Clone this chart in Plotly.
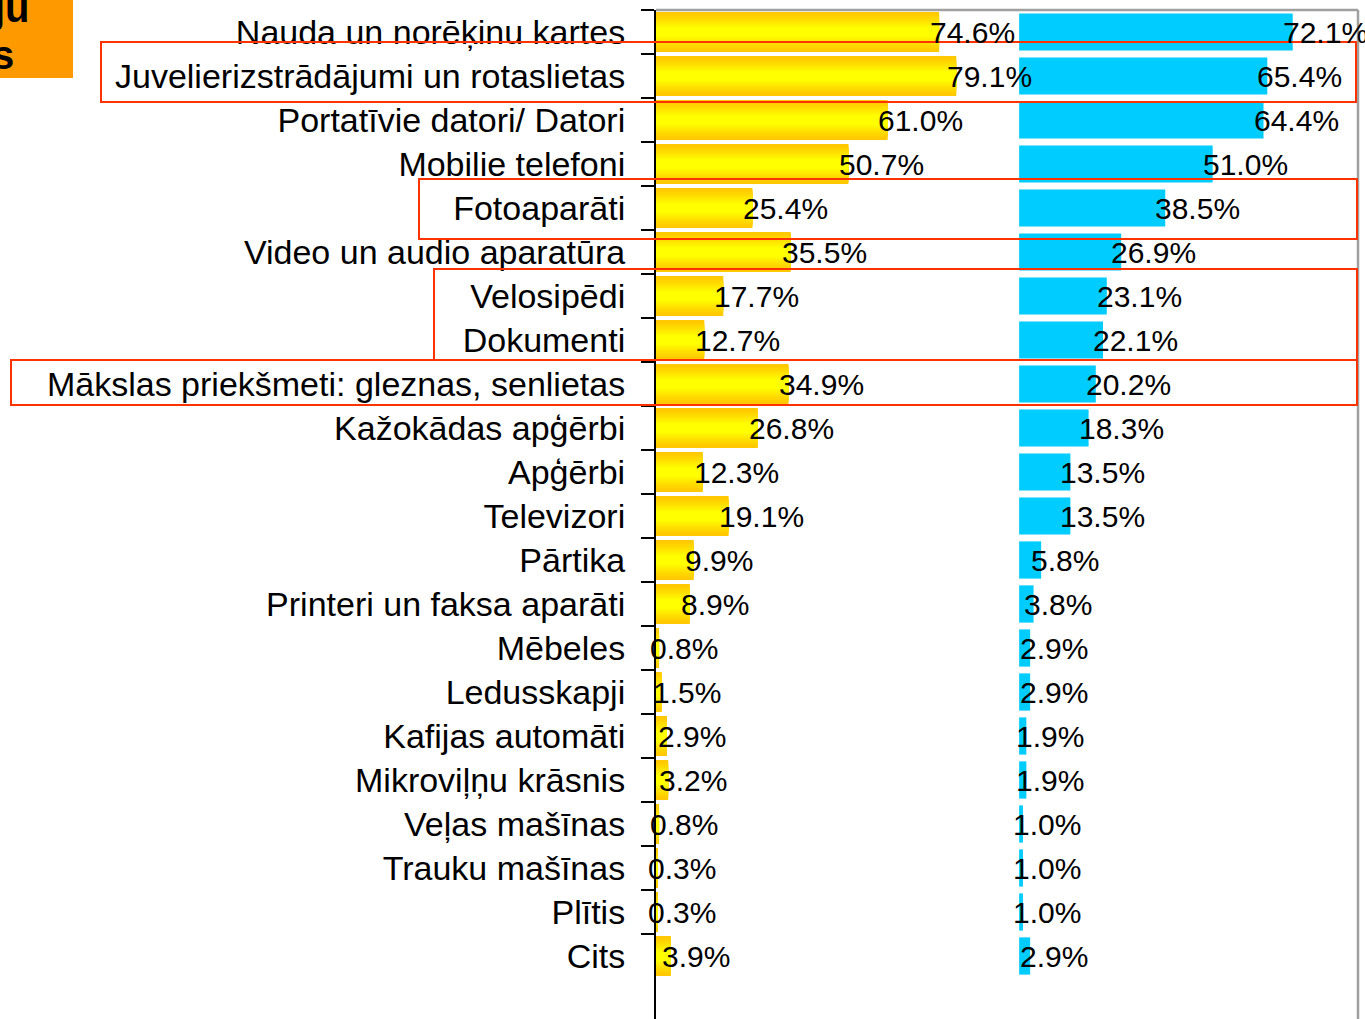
import plotly.graph_objects as go

categories = [
    "Nauda un norēķinu kartes",
    "Juvelierizstrādājumi un rotaslietas",
    "Portatīvie datori/ Datori",
    "Mobilie telefoni",
    "Fotoaparāti",
    "Video un audio aparatūra",
    "Velosipēdi",
    "Dokumenti",
    "Mākslas priekšmeti: gleznas, senlietas",
    "Kažokādas apģērbi",
    "Apģērbi",
    "Televizori",
    "Pārtika",
    "Printeri un faksa aparāti",
    "Mēbeles",
    "Ledusskapji",
    "Kafijas automāti",
    "Mikroviļņu krāsnis",
    "Veļas mašīnas",
    "Trauku mašīnas",
    "Plītis",
    "Cits",
]
yellow_values = [74.6, 79.1, 61.0, 50.7, 25.4, 35.5, 17.7, 12.7, 34.9, 26.8, 12.3,
                 19.1, 9.9, 8.9, 0.8, 1.5, 2.9, 3.2, 0.8, 0.3, 0.3, 3.9]
blue_values = [72.1, 65.4, 64.4, 51.0, 38.5, 26.9, 23.1, 22.1, 20.2, 18.3, 13.5,
               13.5, 5.8, 3.8, 2.9, 2.9, 1.9, 1.9, 1.0, 1.0, 1.0, 2.9]
corner_texts = ["ju", "s"]

# ---- layout constants ----
W, H = 1365, 1019
L, R, T, B = 656, 1358, 10, 1019
X_MAX = 185.0
BLUE_OFFSET = 95.7
BAR_W = 0.91
FONT = "Liberation Sans, Arial, sans-serif"


def px2x(px):
    return (px - L) / (R - L)


def py2y(py):
    return (B - py) / (B - T)


def lerp_color(c1, c2, t):
    a = [int(c1[i:i + 2], 16) for i in (1, 3, 5)]
    b = [int(c2[i:i + 2], 16) for i in (1, 3, 5)]
    return "rgb({},{},{})".format(*[round(a[k] + (b[k] - a[k]) * t) for k in range(3)])


fig = go.Figure()

# yellow bars with vertical gradient (stacked overlay layers)
N = 12
for k in range(N):
    t = k / (N - 1)
    w = BAR_W * (1 - 0.75 * t)
    fig.add_trace(go.Bar(
        y=categories, x=yellow_values, orientation="h", width=w,
        marker=dict(color=lerp_color("#FFC800", "#FFFF00", t ** 1.3), line=dict(width=0)),
        hoverinfo="skip", showlegend=False,
    ))

# blue bars
fig.add_trace(go.Bar(
    y=categories, x=blue_values, base=BLUE_OFFSET, orientation="h", width=BAR_W * 0.93,
    marker=dict(color="#00CCFF", line=dict(width=0)),
    hoverinfo="skip", showlegend=False,
))

annotations = []
for cat, v in zip(categories, yellow_values):
    annotations.append(dict(
        x=v, y=cat, xref="x", yref="y", text=f"{v:.1f}%", showarrow=False,
        xanchor="left", yanchor="middle", xshift=-11,
        font=dict(family=FONT, size=30, color="black"),
    ))
for cat, v in zip(categories, blue_values):
    annotations.append(dict(
        x=BLUE_OFFSET + v, y=cat, xref="x", yref="y", text=f"{v:.1f}%", showarrow=False,
        xanchor="left", yanchor="middle", xshift=-12,
        font=dict(family=FONT, size=30, color="black"),
    ))

# corner title fragments
annotations.append(dict(
    x=px2x(32), y=py2y(8), xref="paper", yref="paper", text=corner_texts[0],
    showarrow=False, xanchor="right", yanchor="middle",
    font=dict(family=FONT, size=40, color="black", weight="bold"),
))
annotations.append(dict(
    x=px2x(16), y=py2y(55), xref="paper", yref="paper", text=corner_texts[1],
    showarrow=False, xanchor="right", yanchor="middle",
    font=dict(family=FONT, size=40, color="black", weight="bold"),
))

shapes = []
# orange corner box
shapes.append(dict(type="rect", xref="paper", yref="paper",
                   x0=px2x(0), x1=px2x(73), y0=py2y(78), y1=py2y(0) + 0.01,
                   fillcolor="#FF9900", line=dict(width=0), layer="below"))
# grey frame top and right
shapes.append(dict(type="line", xref="paper", yref="paper",
                   x0=0, x1=1, y0=1, y1=1, line=dict(color="#A0A0A0", width=2.5)))
shapes.append(dict(type="line", xref="paper", yref="paper",
                   x0=1, x1=1, y0=0, y1=1, line=dict(color="#A0A0A0", width=2.5)))
# red highlight boxes
red_boxes = [(101, 42, 1356, 102), (419, 179, 1357, 239),
             (434, 269, 1357, 360), (11, 360, 1357, 405)]
for x0, y0, x1, y1 in red_boxes:
    shapes.append(dict(type="rect", xref="paper", yref="paper",
                       x0=px2x(x0), x1=px2x(x1), y0=py2y(y1), y1=py2y(y0),
                       line=dict(color="#FF3300", width=2), fillcolor="rgba(0,0,0,0)"))

fig.update_layout(
    width=W, height=H,
    margin=dict(l=L, r=W - R, t=T, b=H - B, pad=0),
    paper_bgcolor="white", plot_bgcolor="white",
    barmode="overlay",
    annotations=annotations,
    shapes=shapes,
    xaxis=dict(range=[0, X_MAX], visible=False, fixedrange=True),
    yaxis=dict(
        type="category", categoryorder="array", categoryarray=categories,
        range=[(B - T) / 44 - 0.5, -0.5],
        showline=True, linecolor="black", linewidth=2,
        ticks="outside", ticklen=13, tickcolor="black", tickwidth=2,
        tickson="boundaries", showgrid=False, zeroline=False,
        tickfont=dict(family=FONT, size=34, color="black"),
        ticklabelstandoff=22,
    ),
    font=dict(family=FONT, color="black"),
)

fig.write_html(
    "out.html",
    config={"displayModeBar": False},
    post_script="document.body.style.margin='0';document.body.style.overflow='hidden';",
)
